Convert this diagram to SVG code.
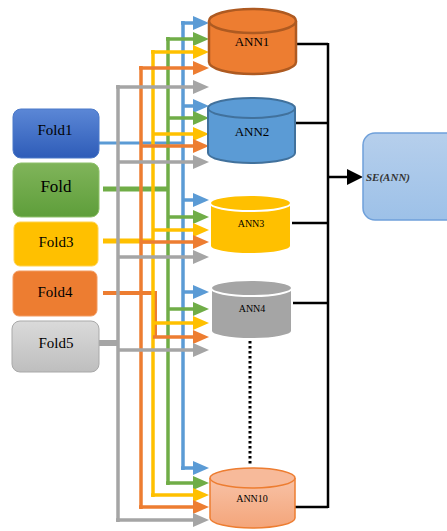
<svg xmlns="http://www.w3.org/2000/svg" width="447" height="531" viewBox="0 0 447 531">
<style>
.lbl{font-family:'Liberation Serif','Times New Roman','DejaVu Serif',serif;fill:#000;text-anchor:middle;font-weight:normal}
.b{stroke:#5B9BD5;stroke-width:3.5;fill:none}
.g{stroke:#70AD47;stroke-width:3.5;fill:none}
.y{stroke:#FFC000;stroke-width:3.5;fill:none}
.o{stroke:#ED7D31;stroke-width:3.5;fill:none}
.k{stroke:#A5A5A5;stroke-width:3.5;fill:none}
.blk{stroke:#000;stroke-width:2.5;fill:none}
</style>
<defs>
<marker id="mb" markerUnits="userSpaceOnUse" markerWidth="16" markerHeight="14" refX="0" refY="7" orient="auto"><path d="M0,0 L16,7 L0,14 z" fill="#5B9BD5"/></marker>
<marker id="mg" markerUnits="userSpaceOnUse" markerWidth="16" markerHeight="14" refX="0" refY="7" orient="auto"><path d="M0,0 L16,7 L0,14 z" fill="#70AD47"/></marker>
<marker id="my" markerUnits="userSpaceOnUse" markerWidth="16" markerHeight="14" refX="0" refY="7" orient="auto"><path d="M0,0 L16,7 L0,14 z" fill="#FFC000"/></marker>
<marker id="mo" markerUnits="userSpaceOnUse" markerWidth="16" markerHeight="14" refX="0" refY="7" orient="auto"><path d="M0,0 L16,7 L0,14 z" fill="#ED7D31"/></marker>
<marker id="mk" markerUnits="userSpaceOnUse" markerWidth="16" markerHeight="14" refX="0" refY="7" orient="auto"><path d="M0,0 L16,7 L0,14 z" fill="#A5A5A5"/></marker>
<marker id="mblk" markerUnits="userSpaceOnUse" markerWidth="16" markerHeight="16" refX="0" refY="8" orient="auto"><path d="M0,0 L16,8 L0,16 z" fill="#000"/></marker>
<linearGradient id="gBlue" x1="0" y1="0" x2="0" y2="1"><stop offset="0" stop-color="#5B87D6"/><stop offset="1" stop-color="#2E5CB8"/></linearGradient>
<linearGradient id="gGreen" x1="0" y1="0" x2="0" y2="1"><stop offset="0" stop-color="#80B45A"/><stop offset="1" stop-color="#5E9E3A"/></linearGradient>
<linearGradient id="gGray" x1="0" y1="0" x2="0" y2="1"><stop offset="0" stop-color="#DADADA"/><stop offset="1" stop-color="#BEBEBE"/></linearGradient>
<linearGradient id="gPeach" x1="0" y1="0" x2="0" y2="1"><stop offset="0" stop-color="#F8C2A6"/><stop offset="1" stop-color="#F4A57A"/></linearGradient>
<linearGradient id="gBox" x1="0" y1="0" x2="0" y2="1"><stop offset="0" stop-color="#B6CFEC"/><stop offset="1" stop-color="#9DC1E8"/></linearGradient>
</defs>

<g id="connectors">
  <line x1="99" y1="143" x2="183" y2="143" stroke="#5B9BD5" stroke-width="3"/>
  <line x1="103" y1="189" x2="168" y2="189" stroke="#70AD47" stroke-width="5"/>
  <line x1="103" y1="241" x2="153" y2="241" stroke="#FFC000" stroke-width="5"/>
  <path d="M103,293 H155 V337" stroke="#ED7D31" stroke-width="4" fill="none"/>
  <line x1="99" y1="343" x2="118" y2="343" stroke="#A5A5A5" stroke-width="6"/>
  <line class="k" x1="118" y1="85" x2="118" y2="522"/>
  <line class="o" x1="141" y1="66" x2="141" y2="509"/>
  <line class="y" x1="153" y1="50" x2="153" y2="497"/>
  <line class="g" x1="168" y1="37" x2="168" y2="485"/>
  <line class="b" x1="183" y1="21" x2="183" y2="470"/>
  <line class="b" x1="181" y1="23" x2="193" y2="23" marker-end="url(#mb)"/>
  <line class="g" x1="166" y1="39" x2="193" y2="39" marker-end="url(#mg)"/>
  <line class="y" x1="151" y1="52" x2="193" y2="52" marker-end="url(#my)"/>
  <line class="o" x1="139" y1="68" x2="193" y2="68" marker-end="url(#mo)"/>
  <line class="k" x1="116" y1="87" x2="193" y2="87" marker-end="url(#mk)"/>
  <line class="b" x1="183" y1="106" x2="193" y2="106" marker-end="url(#mb)"/>
  <line class="g" x1="168" y1="118" x2="193" y2="118" marker-end="url(#mg)"/>
  <line class="y" x1="153" y1="134" x2="193" y2="134" marker-end="url(#my)"/>
  <line class="o" x1="141" y1="146" x2="193" y2="146" marker-end="url(#mo)"/>
  <line class="k" x1="118" y1="162" x2="193" y2="162" marker-end="url(#mk)"/>
  <line class="b" x1="183" y1="200" x2="193" y2="200" marker-end="url(#mb)"/>
  <line class="g" x1="168" y1="217" x2="193" y2="217" marker-end="url(#mg)"/>
  <line class="y" x1="153" y1="230" x2="193" y2="230" marker-end="url(#my)"/>
  <line class="o" x1="141" y1="242" x2="193" y2="242" marker-end="url(#mo)"/>
  <line class="k" x1="118" y1="257" x2="193" y2="257" marker-end="url(#mk)"/>
  <line class="b" x1="183" y1="292" x2="193" y2="292" marker-end="url(#mb)"/>
  <line class="g" x1="168" y1="309" x2="193" y2="309" marker-end="url(#mg)"/>
  <line class="y" x1="153" y1="323" x2="193" y2="323" marker-end="url(#my)"/>
  <line class="o" x1="153" y1="337" x2="193" y2="337" marker-end="url(#mo)"/>
  <line class="k" x1="118" y1="350" x2="193" y2="350" marker-end="url(#mk)"/>
  <line class="b" x1="181" y1="468" x2="193" y2="468" marker-end="url(#mb)"/>
  <line class="g" x1="166" y1="483" x2="193" y2="483" marker-end="url(#mg)"/>
  <line class="y" x1="151" y1="495" x2="193" y2="495" marker-end="url(#my)"/>
  <line class="o" x1="139" y1="507" x2="193" y2="507" marker-end="url(#mo)"/>
  <line class="k" x1="116" y1="520" x2="193" y2="520" marker-end="url(#mk)"/>
  <line class="blk" x1="296" y1="44" x2="328" y2="44"/>
  <line class="blk" x1="295" y1="123" x2="328" y2="123"/>
  <line class="blk" x1="291" y1="223" x2="328" y2="223"/>
  <line class="blk" x1="292" y1="303" x2="328" y2="303"/>
  <line class="blk" x1="295" y1="507" x2="328" y2="507"/>
  <line class="blk" x1="328" y1="43" x2="328" y2="508"/>
  <line class="blk" x1="328" y1="177" x2="347" y2="177" marker-end="url(#mblk)"/>
  <line x1="250" y1="341" x2="250" y2="466" stroke="#000" stroke-width="3" stroke-dasharray="2.5,2.5"/>
</g>

<g id="fold1"><rect x="13" y="109" width="86" height="49" rx="8" fill="url(#gBlue)" stroke="#4A78C8" stroke-width="1"/><text class="lbl" font-family="Liberation Serif, serif" x="55" y="135" font-size="15">Fold1</text></g>
<g id="fold2"><rect x="13" y="163" width="86" height="54" rx="8" fill="url(#gGreen)" stroke="#8EC06A" stroke-width="1"/><text class="lbl" font-family="Liberation Serif, serif" x="56" y="192" font-size="17">Fold</text></g>
<g id="fold3"><rect x="14" y="222" width="84" height="44" rx="6" fill="#FFC000" stroke="#FFD24D" stroke-width="1"/><text class="lbl" font-family="Liberation Serif, serif" x="56" y="247" font-size="15">Fold3</text></g>
<g id="fold4"><rect x="13" y="271" width="84" height="45" rx="6" fill="#ED7D31" stroke="#F29B60" stroke-width="1"/><text class="lbl" font-family="Liberation Serif, serif" x="55" y="297" font-size="15">Fold4</text></g>
<g id="fold5"><rect x="12" y="321" width="87" height="51" rx="8" fill="url(#gGray)" stroke="#A9A9A9" stroke-width="1"/><text class="lbl" font-family="Liberation Serif, serif" x="56" y="348" font-size="15">Fold5</text></g>

<g id="ann1"><path d="M209,21 V62 A43.5,12 0 0 0 296,62 V21" fill="#ED7D31" stroke="#AE5A21" stroke-width="2.5"/><ellipse cx="252.5" cy="21" rx="43.5" ry="12" fill="#ED7D31" stroke="#AE5A21" stroke-width="2.5"/><text class="lbl" font-family="Liberation Serif, serif" x="252" y="46" font-size="13">ANN1</text></g>
<g id="ann2"><path d="M208,108 V153 A43.5,10 0 0 0 295,153 V108" fill="#5B9BD5" stroke="#41719C" stroke-width="2"/><ellipse cx="251.5" cy="108" rx="43.5" ry="10" fill="#5B9BD5" stroke="#41719C" stroke-width="2"/><text class="lbl" font-family="Liberation Serif, serif" x="252" y="136" font-size="13">ANN2</text></g>
<g id="ann3"><path d="M210,203 V246 A40.5,8 0 0 0 291,246 V203" fill="#FFC000" stroke="#FFFFFF" stroke-width="2"/><ellipse cx="250.5" cy="203" rx="40.5" ry="8" fill="#FFC000" stroke="#FFFFFF" stroke-width="2"/><text class="lbl" font-family="Liberation Serif, serif" x="251" y="227" font-size="10">ANN3</text></g>
<g id="ann4"><path d="M211,288 V331 A40.5,8 0 0 0 292,331 V288" fill="#A5A5A5" stroke="#FFFFFF" stroke-width="2"/><ellipse cx="251.5" cy="288" rx="40.5" ry="8" fill="#A5A5A5" stroke="#FFFFFF" stroke-width="2"/><text class="lbl" font-family="Liberation Serif, serif" x="252" y="312" font-size="10">ANN4</text></g>
<g id="ann10"><path d="M210,478 V518 A42.5,10 0 0 0 295,518 V478" fill="url(#gPeach)" stroke="#ED7D31" stroke-width="1.5"/><ellipse cx="252.5" cy="478" rx="42.5" ry="10" fill="#F7BA9A" stroke="#ED7D31" stroke-width="1.5"/><text class="lbl" font-family="Liberation Serif, serif" x="252" y="502" font-size="10">ANN10</text></g>

<g id="se"><rect x="363" y="133" width="100" height="87" rx="12" fill="url(#gBox)" stroke="#6FA0DA" stroke-width="1.5"/><text x="366" y="181" font-family="Liberation Serif, serif" font-size="11" font-weight="bold" font-style="italic" fill="#333">SE(ANN)</text></g>
</svg>
